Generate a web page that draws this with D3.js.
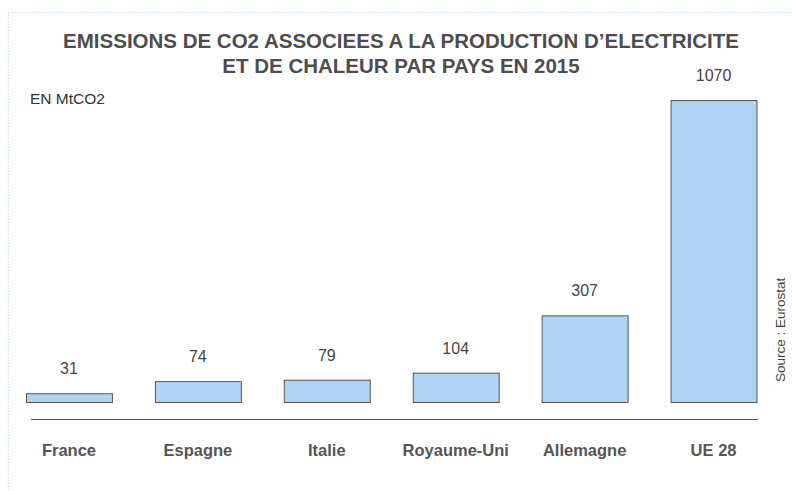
<!DOCTYPE html>
<html>
<head>
<meta charset="utf-8">
<script src="https://cdn.jsdelivr.net/npm/d3@7"></script>
<style>
  body { margin: 0; background: #fff; }
  svg { display: block; font-family: "Liberation Sans", Arial, sans-serif; }
</style>
</head>
<body>
<div id="chart"></div>
<script>
// data
const pays = ["France", "Espagne", "Italie", "Royaume-Uni", "Allemagne", "UE 28"]
const emissions = [31, 74, 79, 104, 307, 1070]
const titre = ["EMISSIONS DE CO2 ASSOCIEES A LA PRODUCTION D\u2019ELECTRICITE", "ET DE CHALEUR PAR PAYS EN 2015"]

const width = 792
const height = 491

const svg = d3.select("#chart").append("svg")
    .attr("width", width)
    .attr("height", height)

// dotted frame (only top and left edges are visible)
svg.append("path")
    .attr("d", "M8.5,490 L8.5,12.5 L792,12.5")
    .attr("fill", "none")
    .attr("stroke", "#c9e3f4")
    .attr("stroke-width", 1.5)
    .attr("stroke-dasharray", "1.5,1.5")

const x = d3.scaleBand()
    .domain(pays)
    .range([4.5, 778])
    .paddingInner(1 / 3)
    .paddingOuter(1 / 6)

const y = d3.scaleLinear()
    .domain([0, 1070])
    .range([402, 100])

// title
svg.append("text")
    .attr("text-anchor", "middle")
    .attr("font-weight", "bold")
    .attr("font-size", 20.5)
    .attr("fill", "#4d4d4d")
  .selectAll("tspan")
    .data(titre)
  .enter().append("tspan")
    .attr("x", 401)
    .attr("y", (d, i) => 48 + i * 25)
    .text(d => d)

svg.append("text")
    .attr("x", 30)
    .attr("y", 104)
    .attr("font-size", 15.5)
    .attr("fill", "#333")
    .text("EN MtCO2")

// bars
const data = pays.map((p, i) => ({ pays: p, v: emissions[i] }))

svg.selectAll("rect.bar")
    .data(data)
  .enter().append("rect")
    .attr("class", "bar")
    .attr("x", d => x(d.pays) + 0.5)
    .attr("y", d => y(d.v) + 0.5)
    .attr("width", x.bandwidth())
    .attr("height", d => y(0) - y(d.v))
    .attr("fill", "#b0d3f3")
    .attr("stroke", "#555")
    .attr("stroke-width", 1)

svg.selectAll("text.val")
    .data(data)
  .enter().append("text")
    .attr("class", "val")
    .attr("x", d => x(d.pays) + x.bandwidth() / 2)
    .attr("y", d => y(d.v) - 19)
    .attr("text-anchor", "middle")
    .attr("font-size", 16)
    .attr("fill", "#444")
    .text(d => d.v)

// baseline axis
const axis = svg.append("g")
    .attr("transform", "translate(0,419)")
    .call(d3.axisBottom(x).tickSize(0).tickPadding(25))

axis.select(".domain")
    .attr("d", "M31,0.5H758")
    .attr("stroke", "#555")

axis.selectAll(".tick text")
    .attr("font-family", "Liberation Sans, Arial, sans-serif")
    .attr("font-size", 16.5)
    .attr("font-weight", "bold")
    .attr("fill", "#555")

svg.append("text")
    .attr("transform", "translate(785,382) rotate(-90)")
    .attr("text-anchor", "start")
    .attr("font-size", 13.5)
    .attr("fill", "#444")
    .text("Source : Eurostat")
</script>
</body>
</html>
